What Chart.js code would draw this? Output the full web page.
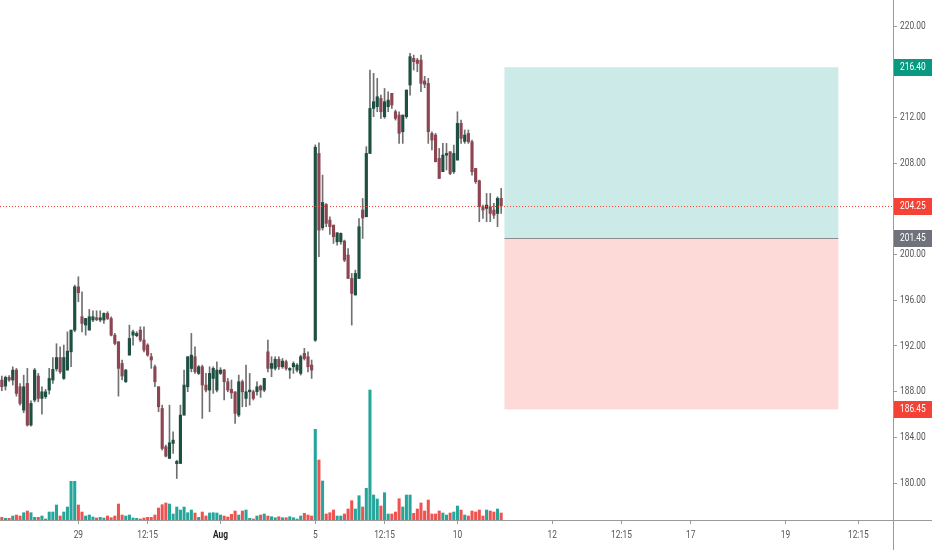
<!DOCTYPE html>
<html><head><meta charset="utf-8">
<script src="https://cdn.jsdelivr.net/npm/chart.js@4.4.1/dist/chart.umd.min.js"></script>
<style>html,body{margin:0;padding:0;background:#fff;overflow:hidden}#wrap{width:932px;height:550px;position:relative}</style>
</head><body><div id="wrap"><canvas id="c" width="932" height="550"></canvas></div>
<script>
// ---- data ----
const opens=[189.02,188.49,189.25,189.02,189.89,188.43,186.39,188.72,185.08,187.26,189.37,187.41,187.56,188.14,189.02,190.00,190.99,189.16,189.89,191.49,193.39,197.18,194.56,193.83,193.39,194.27,194.47,194.27,194.27,194.85,194.41,192.95,192.37,190.47,188.87,191.20,192.95,192.90,193.39,192.52,192.08,191.06,190.18,188.43,186.53,183.18,182.16,183.47,181.70,181.72,185.95,188.43,190.03,191.06,189.60,190.18,188.58,188.14,189.16,188.14,189.60,189.89,188.87,188.20,187.99,185.95,188.87,187.41,187.99,187.99,188.00,188.49,188.14,191.49,190.04,190.04,190.83,190.18,190.62,189.89,190.18,189.89,189.60,191.35,191.06,190.33,192.50,208.85,202.34,204.38,203.02,202.58,201.12,201.12,201.18,199.96,197.91,196.46,197.91,203.90,203.31,208.85,212.79,212.94,213.67,212.07,212.94,214.11,212.50,212.21,210.75,212.07,214.84,217.17,217.02,217.02,215.20,214.98,210.60,210.46,208.42,207.25,208.70,209.00,207.25,208.27,211.48,209.90,210.60,209.87,207.54,206.46,204.19,204.04,204.19,203.90,203.60,204.92];
const highs=[189.37,189.37,189.40,190.18,190.04,188.72,189.45,190.04,187.20,190.04,189.60,188.43,188.20,190.04,190.99,192.20,191.93,192.08,193.24,193.39,197.33,198.06,196.75,194.41,195.20,195.08,195.08,195.08,194.91,195.00,194.56,193.10,192.37,190.77,189.95,193.83,193.39,193.25,193.68,193.68,192.20,191.35,190.33,188.43,186.82,183.32,186.82,184.49,182.00,186.82,189.89,191.06,193.10,191.93,190.30,190.33,189.60,190.18,190.18,190.62,190.10,189.95,189.16,189.02,187.99,189.45,189.02,190.33,189.60,188.14,188.87,188.58,189.16,192.52,191.06,191.06,191.06,190.91,190.77,190.10,190.62,190.47,191.20,191.79,191.49,190.77,209.60,209.79,206.96,204.47,203.31,202.58,201.91,201.90,201.27,200.53,198.35,198.64,203.16,204.91,209.44,216.15,215.86,215.42,213.96,214.54,214.25,214.11,212.65,212.50,212.21,214.40,217.61,217.46,217.17,217.46,215.60,215.42,210.75,210.60,209.29,209.73,209.73,209.00,209.58,212.50,211.77,210.90,210.90,210.02,207.54,206.52,204.33,205.35,205.35,204.48,205.06,205.79];
const lows=[188.08,188.14,188.90,188.58,187.61,186.83,186.16,184.99,184.99,187.10,187.12,186.04,187.40,187.79,188.72,189.80,189.60,189.07,189.89,190.18,193.24,195.87,193.24,192.95,193.39,194.12,194.21,194.12,193.97,194.30,192.87,192.10,187.61,189.02,188.80,191.20,192.08,192.80,192.37,191.49,191.10,190.04,188.43,186.24,182.89,182.30,182.16,182.60,180.40,181.72,185.95,188.00,189.74,189.60,189.50,185.66,187.99,186.24,187.85,187.99,189.50,187.27,187.99,187.41,185.22,185.81,186.68,186.68,186.82,187.27,187.70,187.50,187.99,189.74,189.31,189.89,189.95,190.04,189.89,189.16,189.60,189.74,189.45,190.77,189.74,189.16,192.40,199.81,202.14,202.44,201.76,200.97,200.83,200.90,199.38,197.90,193.83,196.46,197.91,201.41,203.31,208.85,212.07,212.50,211.92,211.92,212.50,212.79,211.77,209.73,209.73,211.92,213.96,216.15,216.00,214.26,214.60,209.73,209.15,208.12,206.66,207.25,207.40,207.00,207.10,208.27,209.73,209.73,209.73,206.96,206.23,202.88,203.16,202.88,202.88,203.16,202.44,203.60];
const closes=[188.43,189.25,189.02,189.89,187.85,186.97,188.43,185.08,186.97,189.89,187.41,187.99,187.99,189.16,189.95,190.99,189.74,190.99,191.55,193.39,197.18,196.66,193.97,194.41,194.56,194.56,194.32,194.47,194.85,194.41,192.95,192.22,190.04,189.37,189.89,192.66,193.24,193.10,192.52,191.64,191.20,190.77,188.87,186.68,183.03,182.36,183.53,183.76,181.90,185.95,188.58,191.06,191.20,189.74,190.18,188.58,188.14,189.60,190.04,189.89,189.89,188.87,188.14,187.90,186.10,188.87,187.99,187.99,188.14,187.41,188.43,188.14,189.16,190.04,190.47,190.83,190.18,190.68,190.04,190.04,190.47,190.33,191.06,190.91,190.18,189.89,209.40,202.14,204.56,202.73,202.44,201.56,201.91,201.85,199.52,197.91,196.60,198.35,202.44,203.20,208.85,212.79,213.38,213.81,212.50,213.38,213.52,213.09,211.92,210.61,212.21,214.40,217.32,216.88,216.73,214.98,214.90,210.75,210.02,208.12,206.66,208.71,208.85,207.10,208.85,211.48,210.17,210.46,209.87,207.25,206.38,204.19,203.90,204.33,203.60,203.45,204.92,204.25];
const volumes=[27,17,17,40,50,40,73,90,73,27,27,40,10,80,80,150,40,80,130,387,387,150,80,40,50,30,20,27,20,40,23,40,160,50,40,50,20,17,10,20,27,27,50,120,153,170,160,60,130,100,130,73,100,70,27,80,40,70,73,70,50,40,30,57,90,50,90,100,17,10,40,50,60,40,33,23,33,23,23,33,23,10,40,67,50,40,907,600,390,60,73,100,40,40,60,110,193,110,243,130,317,1300,250,210,140,273,60,60,80,213,130,250,250,67,110,170,90,200,60,60,90,70,50,70,80,140,100,50,40,90,80,100,40,100,90,80,110,70];
const slotCount=245;
const tickIndex=[21,40,60,86,105,125,151,170,189,215,235];
const tickText=['29','12:15','Aug','5','12:15','10','12','12:15','17','19','12:15'];
const priceMin=176.77, priceMax=222.28, priceStep=4;
const volumeMax=5200;
const lastPrice=204.25, entryPrice=201.45, targetPrice=216.40, stopPrice=186.45;
const positionStart=137.9, positionEnd=229.5;

// ---- text style ----
const FAM='Roboto, "Liberation Sans", sans-serif';
const FS=11;
const SX=0.76; // horizontal squeeze of the screenshot's text

function narrowDraw(area){
  const o=this.options.ticks; if(!o.display) return;
  const ctx=this.ctx; const items=this.getLabelItems(area);
  for(const it of items){
    if(!it.label) continue;
    const op=it.options;
    ctx.save();
    ctx.font=it.font.string;
    ctx.fillStyle=op.color; ctx.textAlign=op.textAlign; ctx.textBaseline=op.textBaseline;
    ctx.translate(op.translation[0],op.translation[1]);
    if(op.rotation) ctx.rotate(op.rotation);
    ctx.scale(SX,1);
    ctx.fillText(String(it.label),0,it.textOffset);
    ctx.restore();
  }
}
class NarrowLinear extends Chart.LinearScale { drawLabels(a){ narrowDraw.call(this,a); } }
NarrowLinear.id='narrowLinear'; NarrowLinear.defaults=Chart.LinearScale.defaults;
class NarrowCategory extends Chart.CategoryScale { drawLabels(a){ narrowDraw.call(this,a); } }
NarrowCategory.id='narrowCategory'; NarrowCategory.defaults=Chart.CategoryScale.defaults;
Chart.register(NarrowLinear,NarrowCategory);

const labels=Array.from({length:slotCount},(_,i)=>{const k=tickIndex.indexOf(i);return k>=0?tickText[k]:'';});
const up=closes.map((c,i)=>c>=opens[i]);

const positionPlugin={
  id:'position',
  beforeDatasetsDraw(chart){
    const {ctx,scales:{x,y}}=chart;
    const l=x.getPixelForValue(positionStart), r=x.getPixelForValue(positionEnd);
    const yt=y.getPixelForValue(targetPrice), ye=y.getPixelForValue(entryPrice), ys=y.getPixelForValue(stopPrice);
    ctx.save();
    ctx.fillStyle='rgba(0,150,136,0.2)'; ctx.fillRect(l,yt,r-l,ye-yt);
    ctx.fillStyle='rgba(244,67,54,0.2)'; ctx.fillRect(l,ye,r-l,ys-ye);
    ctx.strokeStyle='#8c8c8c'; ctx.lineWidth=1;
    ctx.beginPath(); ctx.moveTo(l,Math.round(ye)+0.5); ctx.lineTo(r,Math.round(ye)+0.5); ctx.stroke();
    ctx.restore();
  },
  afterDraw(chart){
    const {ctx,scales:{y},chartArea:a}=chart;
    const W=chart.width, H=chart.height;
    ctx.save();
    ctx.strokeStyle='#9a9a9a'; ctx.lineWidth=1;
    ctx.beginPath(); ctx.moveTo(Math.round(a.right)+0.5,0); ctx.lineTo(Math.round(a.right)+0.5,H); ctx.stroke();
    ctx.beginPath(); ctx.moveTo(0,Math.round(a.bottom)+0.5); ctx.lineTo(W,Math.round(a.bottom)+0.5); ctx.stroke();
    const yl=Math.round(y.getPixelForValue(lastPrice))+0.5;
    ctx.strokeStyle='#f44336'; ctx.setLineDash([1,2]);
    ctx.beginPath(); ctx.moveTo(a.left,yl); ctx.lineTo(a.right,yl); ctx.stroke();
    ctx.setLineDash([]);
    const tags=[[targetPrice,'#089981'],[lastPrice,'#f44336'],[entryPrice,'#6f727b'],[stopPrice,'#f44336']];
    ctx.font=FS+'px '+FAM; ctx.textBaseline='middle'; ctx.textAlign='left';
    for(const [p,col] of tags){
      const yy=Math.round(y.getPixelForValue(p));
      ctx.fillStyle=col; ctx.fillRect(a.right+1,yy-8,W-a.right,17);
      ctx.save(); ctx.translate(a.right+7,yy+0.5); ctx.scale(SX,1);
      ctx.fillStyle='#fff'; ctx.fillText(p.toFixed(2),0,0); ctx.restore();
    }
    ctx.restore();
  }
};

new Chart(document.getElementById('c'),{
  type:'bar',
  data:{labels,datasets:[
    {label:'Volume',data:volumes,yAxisID:'yv',backgroundColor:up.map(u=>u?'#26a69a':'#ef5350'),barThickness:2.4,grouped:false,order:3},
    {label:'Wick',data:lows.map((l,i)=>[l,highs[i]]),yAxisID:'y',backgroundColor:'#707070',barThickness:1,grouped:false,order:2},
    {label:'Body',data:opens.map((o,i)=>[o,closes[i]]),yAxisID:'y',backgroundColor:up.map(u=>u?'#1d4f42':'#8e4552'),barThickness:2.5,minBarLength:1,grouped:false,order:1}
  ]},
  options:{
    responsive:false,animation:false,
    layout:{padding:0},
    plugins:{legend:{display:false},tooltip:{enabled:false}},
    scales:{
      x:{type:'narrowCategory',offset:true,
        grid:{offset:false,drawOnChartArea:false,drawTicks:true,tickLength:4,color:c=>(c.tick&&c.tick.label)?'#9a9a9a':'rgba(0,0,0,0)'},
        border:{display:false},
        ticks:{autoSkip:false,maxRotation:0,minRotation:0,padding:5,
          color:c=>(c.tick&&c.tick.label==='Aug')?'#222':'#555',
          font:c=>({family:FAM,size:FS,weight:(c.tick&&c.tick.label==='Aug')?'bold':'normal'}),
          callback:(v,i)=>labels[i]},
        afterFit:s=>{s.height=30;s.paddingLeft=0;s.paddingRight=0;}},
      y:{type:'narrowLinear',position:'right',min:priceMin,max:priceMax,
        grid:{drawOnChartArea:false,drawTicks:true,tickLength:4,color:'#9a9a9a'},
        border:{display:false},
        ticks:{stepSize:priceStep,includeBounds:false,padding:3,color:'#555',font:{family:FAM,size:FS},
          callback:v=>[targetPrice,lastPrice,entryPrice,stopPrice].some(p=>Math.abs(p-v)<1)?'':Number(v).toFixed(2)},
        afterFit:s=>{s.width=39;s.paddingTop=0;s.paddingBottom=0;}},
      yv:{display:false,min:0,max:volumeMax,position:'left'}
    }
  },
  plugins:[positionPlugin]
});
</script></body></html>
